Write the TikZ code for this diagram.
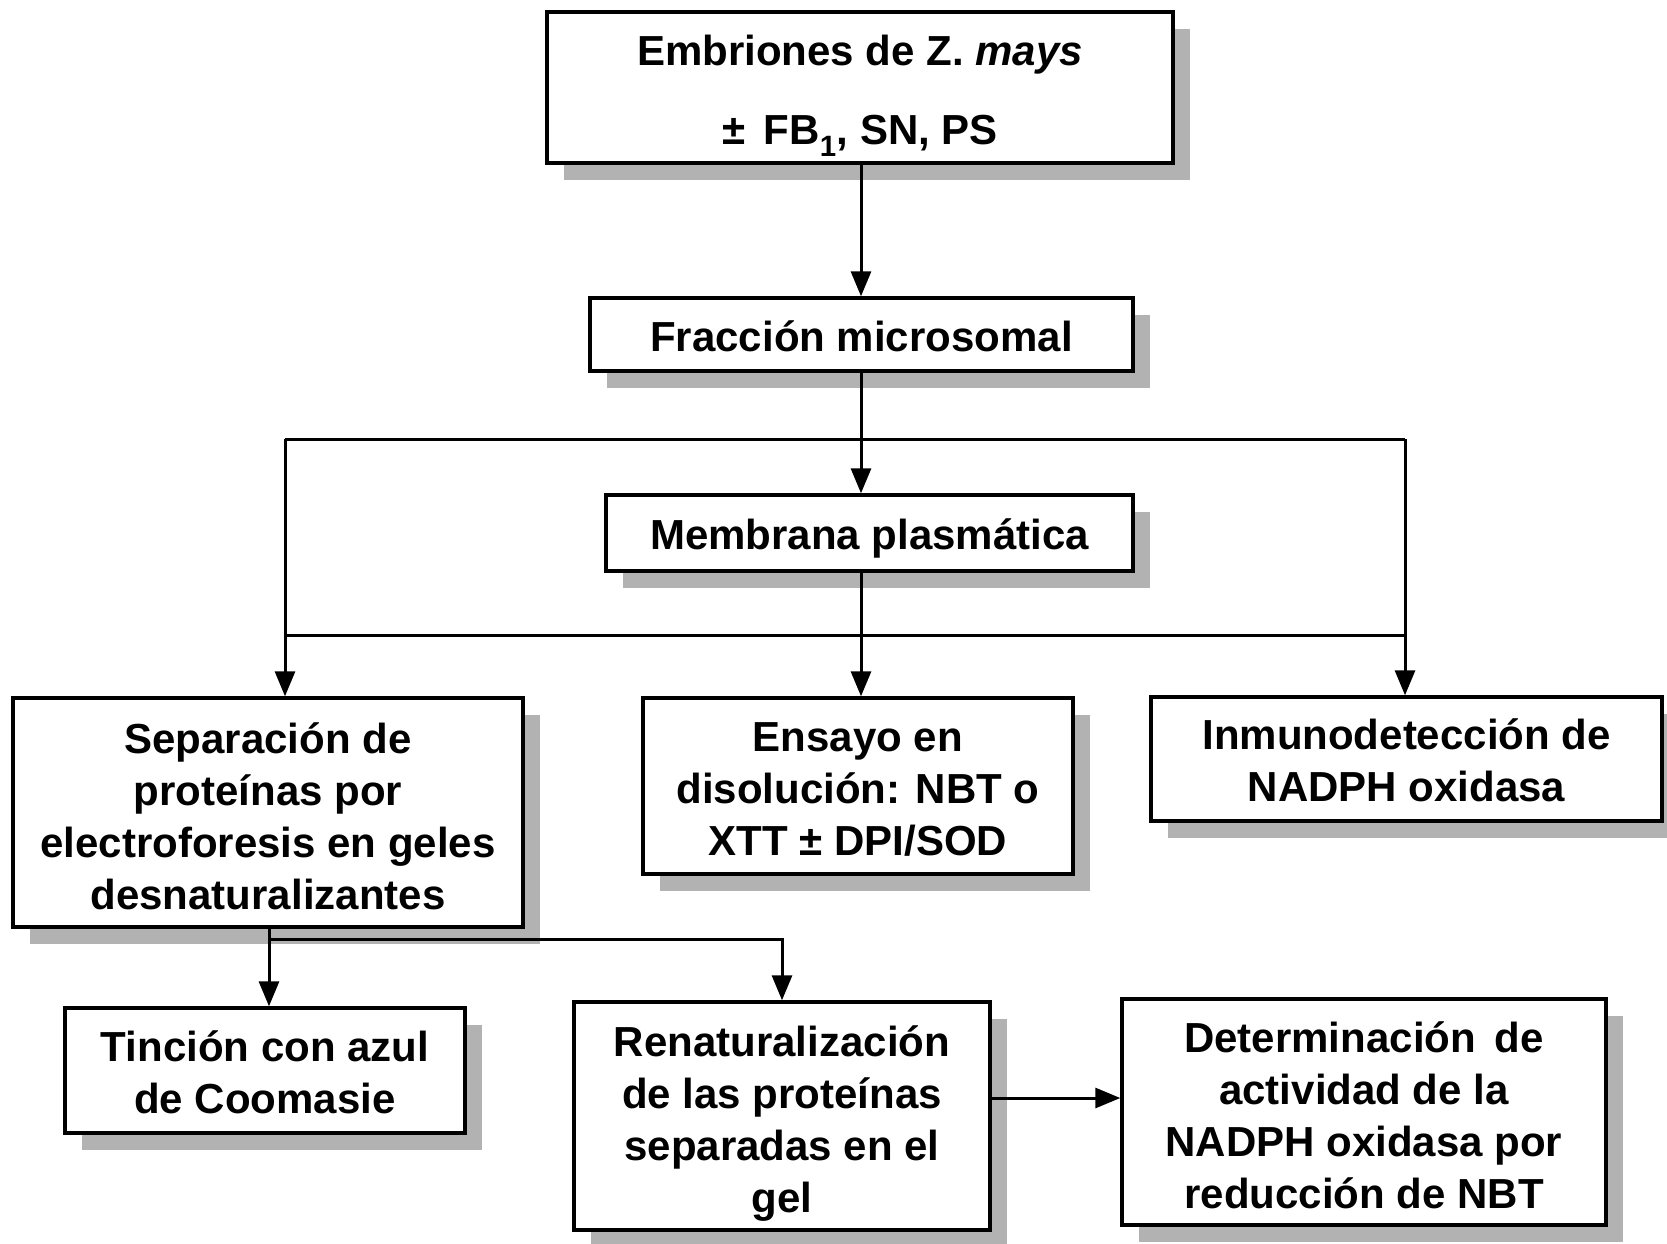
\documentclass[tikz,border=0pt]{standalone}
\usepackage{fontspec}
\setmainfont{Liberation Sans}
\usetikzlibrary{arrows.meta,shadows}
\begin{document}
\begin{tikzpicture}[x=1pt,y=-1pt,
  box/.style={draw=black, line width=3.4pt, fill=white, inner sep=0pt,
    general shadow={shadow xshift=17pt, shadow yshift=-17pt, fill=black!30}},
  txt/.style={inner sep=0pt, align=center, font=\fontsize{42}{52}\selectfont\bfseries},
  arr/.style={line width=3pt, -{Triangle[length=25pt,width=20pt]}},
  ln/.style={line width=3pt}]
\useasboundingbox (0,0) rectangle (1667,1243);
% boxes
\node[box, minimum width=626pt, minimum height=151pt] (top) at (860,87.5) {};
\node[box, minimum width=543pt, minimum height=73pt] (fr) at (861.5,334.5) {};
\node[box, minimum width=527pt, minimum height=76pt] (mem) at (869.5,533) {};
\node[box, minimum width=510pt, minimum height=229pt] (sep) at (268,812.5) {};
\node[box, minimum width=430pt, minimum height=176pt] (ens) at (858,786) {};
\node[box, minimum width=511pt, minimum height=124pt] (inm) at (1406.5,759) {};
\node[box, minimum width=400pt, minimum height=125pt] (tin) at (265,1070.5) {};
\node[box, minimum width=416pt, minimum height=228pt] (ren) at (782,1116) {};
\node[box, minimum width=484pt, minimum height=226pt] (det) at (1364,1112) {};
% texts
\node[txt] (topt) at (860,96) {Embriones de Z. \textit{mays}\\[27pt]±\, FB\textsubscript{1}, SN, PS};
\node[txt] (frt) at (861.5,336) {Fracción microsomal};
\node[txt] (memt) at (869.5,538) {Membrana plasmática};
\node[txt] (sept) at (268,816) {Separación de\\proteínas por\\electroforesis en geles\\desnaturalizantes};
\node[txt] (enst) at (858,789) {Ensayo en\\disolución: NBT o\\XTT ± DPI/SOD};
\node[txt] (inmt) at (1406.5,760) {Inmunodetección de\\NADPH oxidasa};
\node[txt] (tint) at (265,1072.5) {Tinción con azul\\de Coomasie};
\node[txt] (rent) at (782,1124) {Renaturalización\\de las proteínas\\separadas en el\\gel};
\node[txt] (dett) at (1364,1115) {Determinación\, de\\actividad de la\\NADPH oxidasa por\\reducción de NBT};
% connectors
\coordinate (hl) at (285,439);
\coordinate (hr) at (1405,439);
\coordinate (ll) at (285,635);
\coordinate (lr) at (1405,635);
\coordinate (mx) at (861,0);
\coordinate (br) at (269,939);
\coordinate (ay) at (0,1098);
\draw[arr] (mx |- top.south) -- (mx |- fr.north);
\draw[arr] (mx |- fr.south) -- (mx |- mem.north);
\draw[ln] (hl) -- (hr);
\draw[ln] (ll) -- (lr);
\draw[arr] (hl) -- (hl |- sep.north);
\draw[arr] (hr) -- (hr |- inm.north);
\draw[arr] (mx |- mem.south) -- (mx |- ens.north);
\draw[arr] (br |- sep.south) -- (br |- tin.north);
\draw[arr] (br) -| (ren.north);
\draw[arr] (ren.east |- ay) -- (det.west |- ay);
\end{tikzpicture}
\end{document}
